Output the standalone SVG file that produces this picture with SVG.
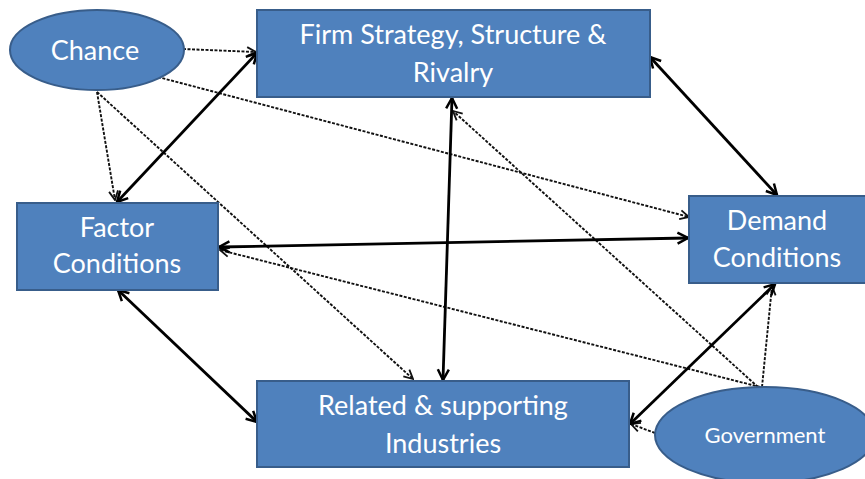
<svg xmlns="http://www.w3.org/2000/svg" width="865" height="479" viewBox="0 0 865 479">
  <style>
    .box { fill: #4F81BD; stroke: #385D8A; stroke-width: 2; }
    .lbl { font-family: Lato, "Open Sans", "Liberation Sans", sans-serif; font-size: 27px; fill: #FFFFFF; text-anchor: middle; }
    .small { font-size: 22px; }
    .solid { fill: none; stroke: #000; stroke-width: 2.8; marker-start: url(#head); marker-end: url(#head); }
    .dash { fill: none; stroke: #111; stroke-width: 1.9; stroke-dasharray: 3 1.5; marker-end: url(#headThin); }
  </style>
  <defs>
    <marker id="head" viewBox="0 0 14 14" refX="12.5" refY="7" markerWidth="14" markerHeight="14" markerUnits="userSpaceOnUse" orient="auto-start-reverse">
      <path d="M2,1.5 L12.5,7 L2,12.5" fill="none" stroke="#000" stroke-width="2.5" stroke-dasharray="none"/>
    </marker>
    <marker id="headThin" viewBox="0 0 12 12" refX="11" refY="6" markerWidth="12" markerHeight="12" markerUnits="userSpaceOnUse" orient="auto">
      <path d="M2,1.5 L11,6 L2,10.5" fill="none" stroke="#111" stroke-width="1.8" stroke-dasharray="none"/>
    </marker>
  </defs>

  <rect width="865" height="479" fill="#FFFFFF"/>

  <!-- connectors -->
  <g id="connectors">
    <!-- influences of chance -->
    <line class="dash" x1="183" y1="49" x2="256" y2="52"/>
    <line class="dash" x1="97" y1="92" x2="115" y2="200"/>
    <line class="dash" x1="97" y1="92" x2="413" y2="379"/>
    <line class="dash" x1="158" y1="77" x2="689" y2="217"/>
    <!-- influences of government -->
    <line class="dash" x1="655" y1="433" x2="631" y2="424"/>
    <line class="dash" x1="762" y1="387" x2="772" y2="286"/>
    <line class="dash" x1="760" y1="387" x2="220" y2="250"/>
    <line class="dash" x1="758" y1="387" x2="453" y2="111"/>
    <!-- mutual links between the four determinants -->
    <line class="solid" x1="257" y1="53" x2="117" y2="202"/>
    <line class="solid" x1="650" y1="57" x2="777" y2="195"/>
    <line class="solid" x1="219" y1="247" x2="688" y2="238"/>
    <line class="solid" x1="452" y1="98" x2="443" y2="380"/>
    <line class="solid" x1="118" y1="290" x2="257" y2="422"/>
    <line class="solid" x1="775" y1="284" x2="630" y2="424"/>
  </g>

  <g id="chance">
    <ellipse class="box" cx="97" cy="50" rx="87" ry="40"/>
    <text class="lbl" x="95" y="60">Chance</text>
  </g>

  <g id="firm">
    <rect class="box" x="257" y="10" width="393" height="87"/>
    <text class="lbl" x="453" y="44">Firm Strategy, Structure &amp;</text>
    <text class="lbl" x="453" y="82">Rivalry</text>
  </g>

  <g id="factor">
    <rect class="box" x="17" y="203" width="201" height="87"/>
    <text class="lbl" x="117" y="237">Factor</text>
    <text class="lbl" x="117" y="273">Conditions</text>
  </g>

  <g id="demand">
    <rect class="box" x="689" y="196" width="177" height="87"/>
    <text class="lbl" x="777" y="230">Demand</text>
    <text class="lbl" x="777" y="267">Conditions</text>
  </g>

  <g id="related">
    <rect class="box" x="257" y="381" width="372" height="86"/>
    <text class="lbl" x="443" y="415">Related &amp; supporting</text>
    <text class="lbl" x="443" y="453">Industries</text>
  </g>

  <g id="government">
    <ellipse class="box" cx="765" cy="435" rx="110" ry="48"/>
    <text class="lbl small" x="765" y="443">Government</text>
  </g>
</svg>
